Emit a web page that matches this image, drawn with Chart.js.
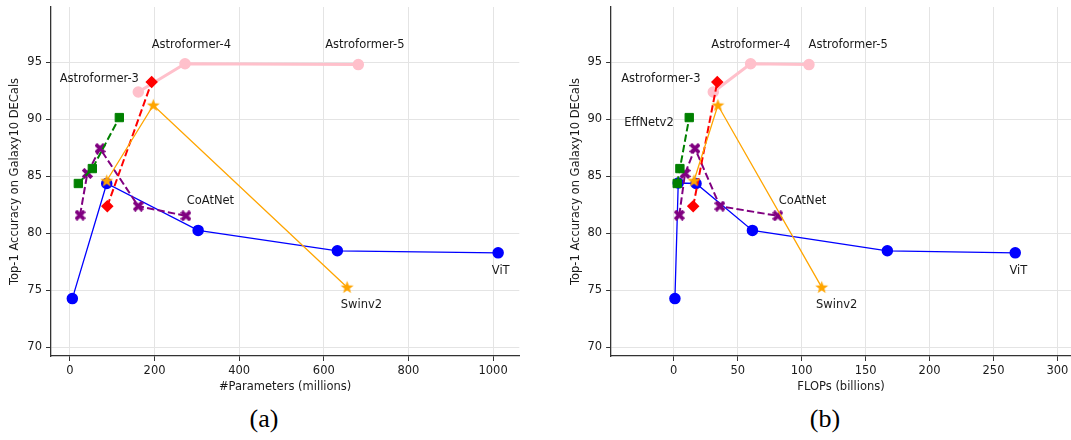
<!DOCTYPE html>
<html>
<head>
<meta charset="utf-8">
<script src="https://cdn.jsdelivr.net/npm/chart.js@4.4.1/dist/chart.umd.min.js"></script>
<style>
body { margin: 0; width: 1071px; height: 440px; background: #fff; position: relative; overflow: hidden; }
#graficaA { position: absolute; left: 0; top: 0; }
#graficaB { position: absolute; left: 540px; top: 0; }
.pie { position: absolute; top: 404px; width: 60px; text-align: center; line-height: 30px;
       font-family: "Liberation Serif", "DejaVu Serif", serif; font-size: 26px; color: #000; }
</style>
</head>
<body>
<canvas id="graficaA" width="530" height="400"></canvas>
<canvas id="graficaB" width="531" height="400"></canvas>
<div class="pie" style="left:234px">(a)</div>
<div class="pie" style="left:795px">(b)</div>

<script>
// datos
const yTicks = [70, 75, 80, 85, 90, 95];
const xTicksParams = [0, 200, 400, 600, 800, 1000];
const xTicksFlops = [0, 50, 100, 150, 200, 250, 300];

const vitParams = [5.7, 87, 303, 632, 1012];
const vitAccParams = [74.25, 84.36, 80.24, 78.45, 78.27];
const vitFlops = [0.9, 3.5, 17.4, 61.5, 167, 267];
const vitAccFlops = [74.25, 84.4, 84.36, 80.24, 78.45, 78.27];

const astroParams = [161.6, 272, 681.5];
const astroFlops = [30.9, 60.1, 105.7];
const astroAcc = [92.4, 94.88, 94.8];

const swinParams = [87, 197, 655];
const swinFlops = [15.8, 34.5, 115.7];
const swinAcc = [84.6, 91.23, 75.24];

const coatParams = [23.9, 41.2, 71.1, 161.6, 274.3];
const coatFlops = [4.3, 8.8, 16.6, 36.1, 81.4];
const coatAcc = [81.58, 85.24, 87.43, 82.37, 81.52];

const effParams = [19.9, 53, 116.8];
const effFlops = [2.7, 4.8, 12.1];
const effAcc = [84.36, 85.67, 90.15];

const rojoParams = [88.4, 193.2];
const rojoFlops = [15.2, 34];
const rojoAcc = [82.37, 93.27];

const textosParams = ['Astroformer-3', 'Astroformer-4', 'Astroformer-5', 'CoAtNet', 'ViT', 'Swinv2'];
const textosParamsX = [69.5, 287, 697, 332, 1018, 689];
const textosParamsY = [93.5, 96.5, 96.5, 82.8, 76.7, 73.7];

const textosFlops = ['Astroformer-3', 'Astroformer-4', 'Astroformer-5', 'CoAtNet', 'ViT', 'Swinv2', 'EffNetv2'];
const textosFlopsX = [-10.1, 60.3, 136.4, 100.7, 269.4, 127.4, -19.4];
const textosFlopsY = [93.5, 96.5, 96.5, 82.8, 76.7, 73.7, 89.65];

var fuente = { family: 'DejaVu Sans', size: 11.5 };
var colorTexto = '#1a1a1a';


function crearEstrella(color) 
{
    var c = document.createElement('canvas');
    c.width = 15;
    c.height = 15;
    var ctx = c.getContext('2d');
    ctx.beginPath();
    for (var i = 0; i < 10; i++) {
        var r = (i % 2 == 0) ? 6.8 : 2.8;
        var a = -Math.PI / 2 + i * Math.PI / 5;
        var px = 7.5 + r * Math.cos(a);
        var py = 7.8 + r * Math.sin(a);
        if (i == 0) ctx.moveTo(px, py); else ctx.lineTo(px, py);
    }
    ctx.closePath();
    ctx.fillStyle = color;
    ctx.fill();
    return c;
}

function crearCruz(color) 
{
    var c = document.createElement('canvas');
    c.width = 11;
    c.height = 11;
    var ctx = c.getContext('2d');
    ctx.strokeStyle = color;
    ctx.lineWidth = 3.8;
    ctx.beginPath();
    ctx.moveTo(1.2, 1.2); ctx.lineTo(9.8, 9.8);
    ctx.moveTo(9.8, 1.2); ctx.lineTo(1.2, 9.8);
    ctx.stroke();
    return c;
}

function puntos(xs, ys) 
{
    return xs.map(function(v, i) { return { x: v, y: ys[i] }; });
}

function serie(xs, ys, color, extra) 
{
    var base = {
        data: puntos(xs, ys),
        borderColor: color,
        backgroundColor: color,
        pointBackgroundColor: color,
        pointBorderColor: color,
        borderWidth: 1.3,
        pointRadius: 5,
        pointBorderWidth: 1.5,
        tension: 0,
        fill: false,
        clip: false
    };
    return Object.assign(base, extra);
}

var estrella = crearEstrella('#ffa500');
var cruz = crearCruz('#800080');

function seriesGrafica(vx, vy, ax, cx, ex, rx, sx) 
{
    return [
        serie(vx, vy, '#0000ff', { order: 6 }),
        serie(ax, astroAcc, '#ffc0cb', { order: 5, borderWidth: 3 }),
        serie(cx, coatAcc, '#800080', { order: 4, borderWidth: 2, borderDash: [7.4, 3.2], pointStyle: cruz }),
        serie(ex, effAcc, '#008000', { order: 3, borderWidth: 2, borderDash: [7.4, 3.2], pointStyle: 'rect', pointRadius: 5.9, pointBorderWidth: 1 }),
        serie(rx, rojoAcc, '#ff0000', { order: 2, borderWidth: 2, borderDash: [7.4, 3.2], pointStyle: 'rectRot', pointRadius: 5.2 }),
        serie(sx, swinAcc, '#ffa500', { order: 1, pointStyle: estrella })
    ];
}

var pluginEtiquetas = {
    id: 'etiquetas',
    afterDatasetsDraw: function(chart, args, opts) 
    {
        var ctx = chart.ctx;
        ctx.save();
        ctx.font = '11.5px "DejaVu Sans"';
        ctx.fillStyle = colorTexto;
        ctx.textAlign = 'center';
        ctx.textBaseline = 'middle';
        opts.textos.forEach(function(t, i) {
            ctx.fillText(t, chart.scales.x.getPixelForValue(opts.xs[i]), chart.scales.y.getPixelForValue(opts.ys[i]));
        });
        ctx.restore();
    }
};

function crearGrafica(idCanvas, datasets, cfg) 
{
    var ctx = document.getElementById(idCanvas).getContext('2d');
    return new Chart(ctx, {
        type: 'line',
        data: { datasets: datasets },
        options: {
            responsive: false,
            animation: false,
            devicePixelRatio: 1,
            layout: { autoPadding: false, padding: { left: 0, top: 7, right: cfg.padDerecha, bottom: 0 } },
            plugins: {
                legend: { display: false },
                tooltip: { enabled: false },
                etiquetas: { textos: cfg.textos, xs: cfg.textosX, ys: cfg.textosY }
            },
            scales: {
                x: {
                    type: 'linear',
                    min: cfg.xMin,
                    max: cfg.xMax,
                    afterBuildTicks: function(s) { s.ticks = cfg.xTicks.map(function(v) { return { value: v }; }); },
                    afterFit: function(s) { s.height = 44; s.paddingLeft = 0; s.paddingRight = 0; },
                    grid: { color: '#e4e4e4', lineWidth: 1, tickColor: '#333', tickLength: 5, tickWidth: 1 },
                    border: { color: '#333', width: 1.3 },
                    ticks: { color: colorTexto, font: fuente, padding: 3, maxRotation: 0, autoSkip: false,
                             callback: function(v) { return String(v); } },
                    title: { display: true, text: cfg.xTitulo, color: colorTexto, font: fuente, padding: { top: 0, bottom: 6.4 } }
                },
                y: {
                    type: 'linear',
                    min: 69.21,
                    max: 99.86,
                    afterBuildTicks: function(s) { s.ticks = yTicks.map(function(v) { return { value: v }; }); },
                    afterFit: function(s) { s.width = cfg.yAncho; s.paddingTop = 0; s.paddingBottom = 0; },
                    grid: { color: '#e4e4e4', lineWidth: 1, tickColor: '#333', tickLength: 5, tickWidth: 1 },
                    border: { color: '#333', width: 1.3 },
                    ticks: { color: colorTexto, font: fuente, padding: 4, autoSkip: false,
                             callback: function(v) { return String(v); } },
                    title: { display: true, text: 'Top-1 Accuracy on Galaxy10 DECals', color: colorTexto, font: fuente,
                             padding: { top: cfg.yTituloPad, bottom: 0 } }
                }
            }
        },
        plugins: [pluginEtiquetas]
    });
}

crearGrafica('graficaA',
    seriesGrafica(vitParams, vitAccParams, astroParams, coatParams, effParams, rojoParams, swinParams),
    {
        xMin: -44.7, xMax: 1062, xTicks: xTicksParams, xTitulo: '#Parameters (millions)',
        padDerecha: 10.7, yAncho: 51, yTituloPad: 8.6,
        textos: textosParams, textosX: textosParamsX, textosY: textosParamsY
    });

crearGrafica('graficaB',
    seriesGrafica(vitFlops, vitAccFlops, astroFlops, coatFlops, effFlops, rojoFlops, swinFlops),
    {
        xMin: -49, xMax: 310.6, xTicks: xTicksFlops, xTitulo: 'FLOPs (billions)',
        padDerecha: 0, yAncho: 71.1, yTituloPad: 28.7,
        textos: textosFlops, textosX: textosFlopsX, textosY: textosFlopsY
    });
</script>
</body>
</html>
